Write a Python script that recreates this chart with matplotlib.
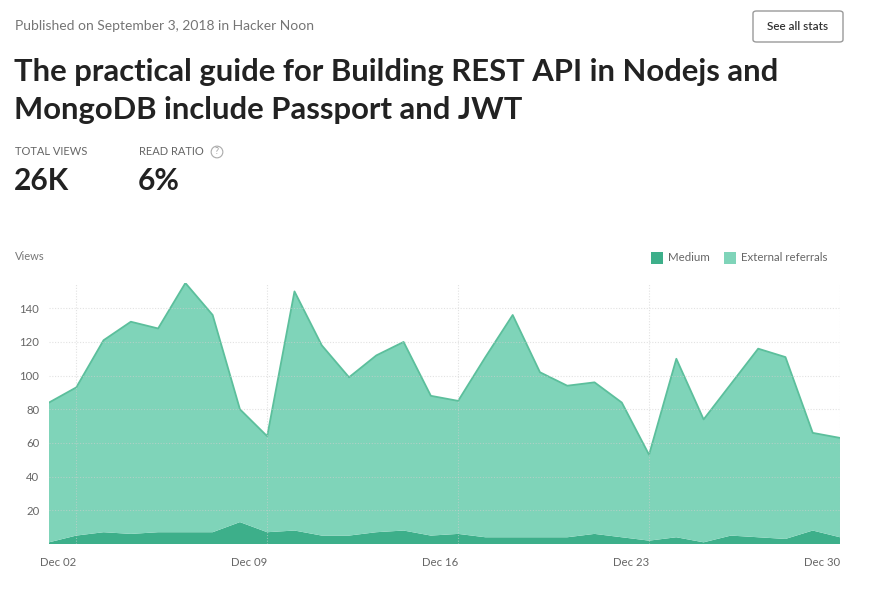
import numpy as np
import matplotlib
matplotlib.use('Agg')
import matplotlib.pyplot as plt
from matplotlib.patches import FancyBboxPatch, Rectangle

plt.rcParams['font.family'] = ['Lato', 'DejaVu Sans']

# data: daily views, Dec 01 - Dec 30
days = list(range(1, 31))
total_views = [84, 93, 121, 132, 128, 155, 136, 80, 64, 150, 118, 99, 112, 120, 88,
               85, 111, 136, 102, 94, 96, 84, 53, 110, 74, 95, 116, 111, 66, 63]
medium = [1, 5, 7, 6, 7, 7, 7, 13, 7, 8, 5, 5, 7, 8, 5,
          6, 4, 4, 4, 4, 6, 4, 2, 4, 1, 5, 4, 3, 8, 4]
external = [t - m for t, m in zip(total_views, medium)]
tick_days = [2, 9, 16, 23, 30]
tick_labels = ['Dec 02', 'Dec 09', 'Dec 16', 'Dec 23', 'Dec 30']
y_ticks = [20, 40, 60, 80, 100, 120, 140]

W, H = 880, 593
fig = plt.figure(figsize=(W / 100, H / 100), dpi=100)
fig.patch.set_facecolor('white')

def fx(x):
    return x / W

def fy(y):
    return 1 - y / H

# header
fig.text(fx(15), fy(26), 'Published on September 3, 2018 in Hacker Noon',
         fontsize=10, color='#757575', va='center', ha='left')
btn = FancyBboxPatch((fx(753), fy(42)), fx(90), 31 / H,
                     boxstyle='round,pad=0,rounding_size=0.004',
                     transform=fig.transFigure, fill=False, ec='#9a9a9a', lw=1)
fig.add_artist(btn)
fig.text(fx(798), fy(26.5), 'See all stats', fontsize=8.5, color='#333333',
         va='center', ha='center', fontweight='semibold')

fig.text(fx(14), fy(72), 'The practical guide for Building REST API in Nodejs and',
         fontsize=22.3, fontweight='bold', color='#222222', va='center', ha='left')
fig.text(fx(14), fy(110), 'MongoDB include Passport and JWT',
         fontsize=22.3, fontweight='bold', color='#222222', va='center', ha='left')

fig.text(fx(15), fy(152), 'TOTAL VIEWS', fontsize=8, color='#666666', va='center')
fig.text(fx(139), fy(152), 'READ RATIO', fontsize=8, color='#666666', va='center')
fig.text(fx(217), fy(152), '?', fontsize=6.5, color='#999999', va='center', ha='center',
         bbox=dict(boxstyle='circle,pad=0.15', fc='white', ec='#aaaaaa', lw=0.8))
fig.text(fx(14), fy(181), '26K', fontsize=21.5, fontweight='bold', color='#222222', va='center')
fig.text(fx(138), fy(181), '6%', fontsize=21.5, fontweight='bold', color='#222222', va='center')

fig.text(fx(15), fy(257), 'Views', fontsize=8, color='#777777', va='center')

c_medium = '#3daf8a'
c_ext = '#7fd4b9'
c_line = '#5cbf9c'

# legend
fig.add_artist(Rectangle((fx(651), fy(264)), 12 / W, 12 / H, transform=fig.transFigure,
                         fc=c_medium, ec='none'))
fig.text(fx(668), fy(257.5), 'Medium', fontsize=8.3, color='#666666', va='center')
fig.add_artist(Rectangle((fx(724), fy(264)), 12 / W, 12 / H, transform=fig.transFigure,
                         fc=c_ext, ec='none'))
fig.text(fx(741), fy(257.5), 'External referrals', fontsize=8.3, color='#666666', va='center')

# chart area
ax = fig.add_axes([fx(49), fy(544), (840 - 49) / W, (544 - 283) / H])
ax.stackplot(days, medium, external, colors=[c_medium, c_ext], lw=0)
ax.plot(days, total_views, color=c_line, lw=1.3)
ax.set_xlim(1, 30)
ax.set_ylim(0, 155)
for s in ax.spines.values():
    s.set_visible(False)
ax.set_xticks(tick_days)
ax.set_xticklabels(tick_labels, ha='right')
ax.set_yticks(y_ticks)
ax.tick_params(length=0, labelsize=8.2, labelcolor='#666666')
ax.tick_params(axis='y', pad=7)
ax.tick_params(axis='x', pad=9)
ax.grid(True, linestyle=(0, (1, 1.5)), color='#cfcfcf', lw=0.8)
ax.set_axisbelow(False)
for gl in ax.get_xgridlines() + ax.get_ygridlines():
    gl.set_alpha(0.6)

fig.savefig('out.png', dpi=100, facecolor='white')
